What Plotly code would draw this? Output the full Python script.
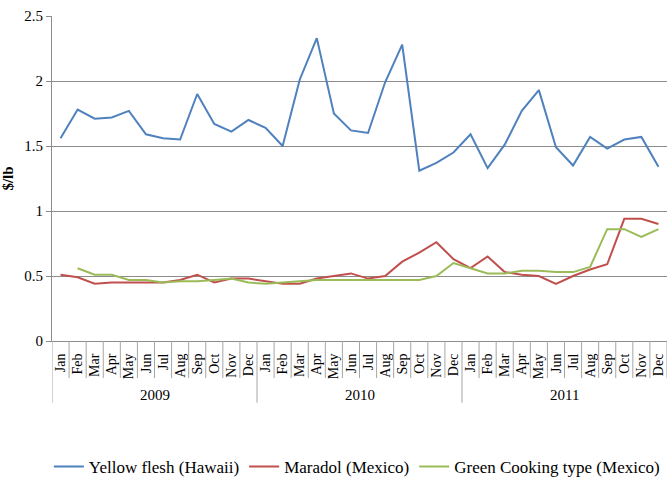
import plotly.graph_objects as go

years = ["2009", "2010", "2011"]
months = ["Jan", "Feb", "Mar", "Apr", "May", "Jun", "Jul", "Aug", "Sep", "Oct", "Nov", "Dec"]

yellow_flesh = [1.56, 1.78, 1.71, 1.72, 1.77, 1.59, 1.56, 1.55, 1.90, 1.67, 1.61, 1.70,
                1.64, 1.50, 2.01, 2.33, 1.75, 1.62, 1.60, 1.99, 2.28, 1.31, 1.37, 1.45,
                1.59, 1.33, 1.51, 1.77, 1.93, 1.49, 1.35, 1.57, 1.48, 1.55, 1.57, 1.34]
maradol = [0.51, 0.49, 0.44, 0.45, 0.45, 0.45, 0.45, 0.47, 0.51, 0.45, 0.48, 0.48,
           0.46, 0.44, 0.44, 0.48, 0.50, 0.52, 0.48, 0.50, 0.61, 0.68, 0.76, 0.63,
           0.56, 0.65, 0.53, 0.51, 0.50, 0.44, 0.50, 0.55, 0.59, 0.94, 0.94, 0.90]
green_cooking = [None, 0.56, 0.51, 0.51, 0.47, 0.47, 0.45, 0.46, 0.46, 0.47, 0.48, 0.45,
                 0.44, 0.45, 0.46, 0.47, 0.47, 0.47, 0.47, 0.47, 0.47, 0.47, 0.50, 0.60,
                 0.56, 0.52, 0.52, 0.54, 0.54, 0.53, 0.53, 0.57, 0.86, 0.86, 0.80, 0.86]

series_names = ["Yellow flesh (Hawaii)", "Maradol (Mexico)", "Green Cooking type (Mexico)"]
series_colors = ["#4F81BD", "#C0504D", "#9BBB59"]

# category keys (unique) and their displayed month labels
x_keys = [f"{m} {y}" for y in years for m in months]
x_labels = [m for _ in years for m in months]

serif = "Liberation Serif"
sep_color = "#A6A6A6"
axis_color = "#8C8C8C"

fig = go.Figure()
for name, vals, col in zip(series_names, [yellow_flesh, maradol, green_cooking], series_colors):
    fig.add_trace(go.Scatter(x=x_keys, y=vals, name=name, mode="lines",
                             line=dict(color=col, width=2), connectgaps=False))

shapes = []
n = len(x_keys)
# separators between month cells (taller at year boundaries)
for i in range(n + 1):
    is_year_edge = (i % len(months) == 0)
    shapes.append(dict(type="line", xref="x", yref="paper",
                       x0=i - 0.5, x1=i - 0.5, y0=0, y1=-0.19 if is_year_edge and i < n else -0.114,
                       line=dict(color=sep_color, width=1)))

annotations = []
for k, y in enumerate(years):
    annotations.append(dict(text=y, xref="x", yref="paper",
                            x=k * len(months) + (len(months) - 1) / 2, y=-0.166,
                            xanchor="center", yanchor="middle", showarrow=False,
                            font=dict(family=serif, size=15, color="#000000")))

fig.update_layout(
    width=667, height=479,
    margin=dict(l=52, r=0, t=16, b=138, autoexpand=False),
    paper_bgcolor="white", plot_bgcolor="white",
    font=dict(family=serif, color="#000000", size=14),
    showlegend=True,
    legend=dict(orientation="h", xref="container", yref="container",
                x=0.535, xanchor="center", y=0.025, yanchor="middle",
                font=dict(family=serif, size=17), itemwidth=30, traceorder="normal"),
    shapes=shapes, annotations=annotations,
)
fig.update_yaxes(range=[0, 2.5], dtick=0.5, showgrid=True, gridcolor=axis_color, gridwidth=1,
                 showline=True, linecolor=axis_color, ticks="outside", ticklen=5, tickcolor=axis_color,
                 zeroline=False, tickfont=dict(family=serif, size=15),
                 title=dict(text="<b>$/lb</b>", font=dict(family=serif, size=15), standoff=10))
fig.update_xaxes(type="category", range=[-0.5, n - 0.5], showline=True, linecolor=axis_color,
                 showgrid=False, ticks="", tickvals=x_keys, ticktext=x_labels,
                 tickangle=-90, ticklabelstandoff=6, tickfont=dict(family=serif, size=14))

# remove the browser's default 8px body margin so the 667x479 figure fills the window exactly
fig.write_html("out.html", config={"displayModeBar": False},
               post_script="document.body.style.margin='0px';")
